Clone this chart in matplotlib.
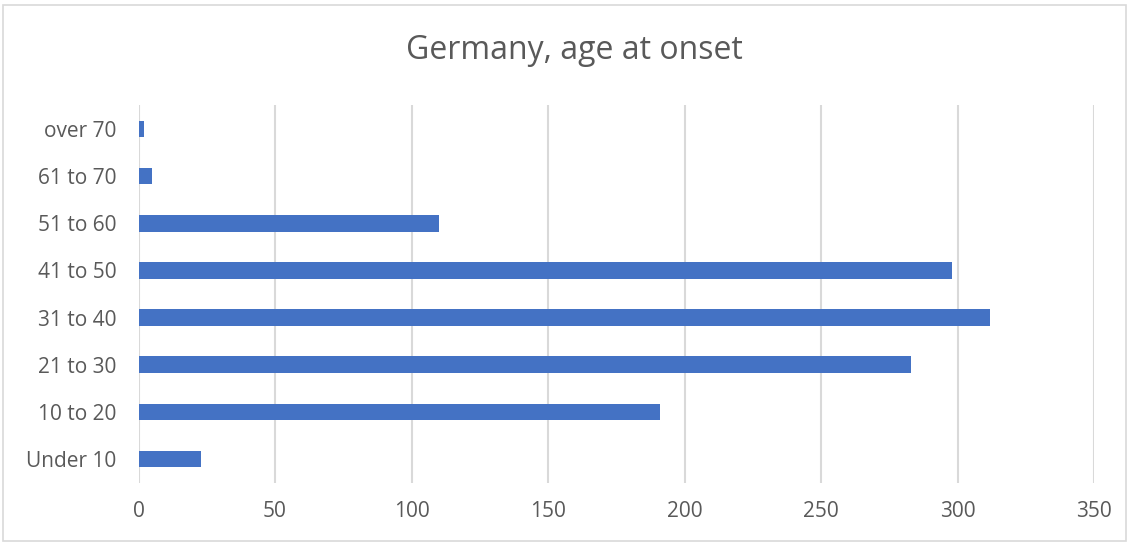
import matplotlib.pyplot as plt
from matplotlib.patches import Rectangle

# Age groups, bottom to top as drawn
categories = ["Under 10", "10 to 20", "21 to 30", "31 to 40", "41 to 50", "51 to 60", "61 to 70", "over 70"]
counts = [23, 191, 283, 312, 298, 110, 5, 2]
x_ticks = [0, 50, 100, 150, 200, 250, 300, 350]

plt.rcParams["font.family"] = ["Open Sans", "DejaVu Sans"]
text_color = "#595959"

fig = plt.figure(figsize=(11.31, 5.43), dpi=100)
ax = fig.add_axes([0.1225, 0.1112, 0.8448, 0.6947])

y = range(len(categories))
ax.barh(y, counts, height=0.35, color="#4472C4", zorder=3)

ax.set_xlim(0, 350)
ax.set_ylim(-0.5, len(categories) - 0.5)
ax.set_xticks(x_ticks)
ax.set_yticks(list(y))
ax.set_yticklabels(categories)
ax.tick_params(axis="both", length=0, labelsize=15, colors=text_color)
ax.tick_params(axis="x", pad=13)
ax.tick_params(axis="y", pad=16)
ax.grid(axis="x", color="#d9d9d9", linewidth=1.5, zorder=0)
for side in ["top", "right", "bottom", "left"]:
    ax.spines[side].set_visible(False)

fig.text(0.508, 0.907, "Germany, age at onset", ha="center", va="center",
         fontsize=23, color=text_color)

# light chart border
fig.patches.append(Rectangle((0.003, 0.004), 0.993, 0.987, transform=fig.transFigure,
                             fill=False, edgecolor="#d9d9d9", linewidth=1.2))

fig.savefig("out.png", dpi=100)
